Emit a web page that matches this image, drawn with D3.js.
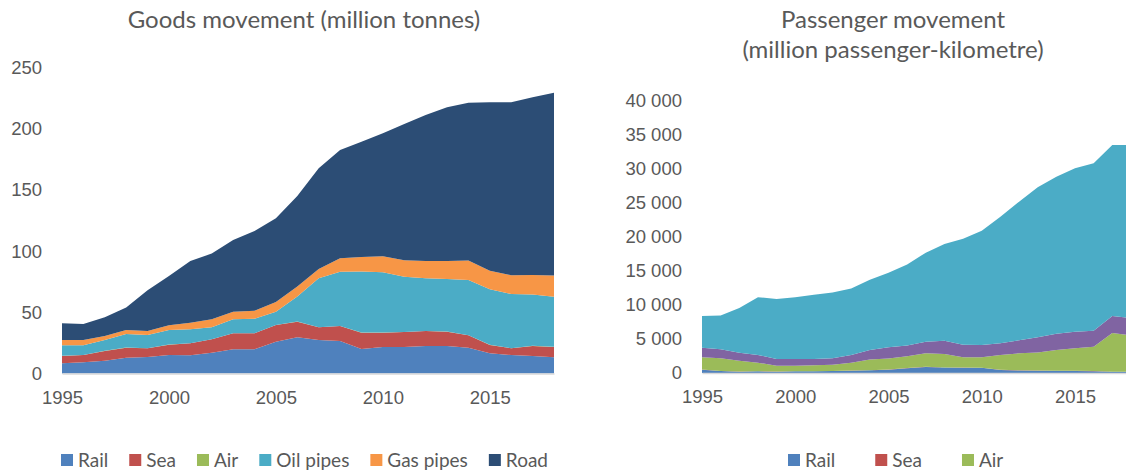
<!DOCTYPE html>
<html>
<head>
<meta charset="utf-8">
<script src="https://cdnjs.cloudflare.com/ajax/libs/d3/7.8.5/d3.min.js"></script>
<style>
  html, body { margin: 0; padding: 0; background: #fff; }
  svg { display: block; font-family: Lato, "Open Sans", sans-serif; }
  .tick text { fill: #595959; font-size: 18.5px; }
</style>
</head>
<body>
<svg id="chart" width="1126" height="472"></svg>
<script>
// years shared by both panels
const years = d3.range(1995, 2019);
const xTicks = [1995, 2000, 2005, 2010, 2015];

// Goods movement (million tonnes)
const goodsKeys = ['Rail', 'Sea', 'Air', 'Oil pipes', 'Gas pipes', 'Road'];
const goodsRail = [8.3, 9.1, 10.5, 12.9, 13.5, 15.1, 15.0, 17.0, 19.8, 19.8, 26.0, 29.6, 27.4, 26.6, 20.0, 21.7, 21.7, 22.5, 22.5, 21.1, 16.5, 15.1, 14.3, 13.2];
const goodsSea = [6.0, 6.0, 7.9, 8.2, 7.1, 8.4, 9.7, 10.9, 13.0, 13.0, 13.6, 12.7, 10.3, 12.2, 13.3, 11.6, 12.2, 12.2, 11.7, 10.1, 6.8, 5.5, 8.2, 8.5];
const goodsAir = [0.1, 0.1, 0.1, 0.1, 0.1, 0.1, 0.1, 0.1, 0.1, 0.1, 0.1, 0.1, 0.1, 0.1, 0.1, 0.1, 0.1, 0.1, 0.1, 0.1, 0.1, 0.1, 0.1, 0.1];
const goodsOil = [8.6, 7.8, 8.9, 11.1, 10.8, 11.9, 11.3, 9.7, 11.4, 11.9, 10.8, 20.6, 40.0, 44.3, 50.0, 49.4, 45.0, 43.0, 42.9, 45.1, 45.4, 44.3, 41.9, 40.9];
const goodsGas = [4.4, 4.4, 3.2, 3.2, 3.2, 3.9, 5.4, 6.6, 6.2, 6.5, 7.9, 8.0, 7.6, 10.9, 11.8, 13.0, 13.6, 14.1, 14.7, 16.0, 15.2, 15.3, 16.0, 17.3];
const goodsRoad = [13.6, 13.0, 15.3, 18.5, 33.3, 40.3, 50.5, 53.7, 58.5, 65.1, 68.4, 74.0, 82.2, 88.5, 94.2, 100.4, 111.2, 119.3, 125.6, 128.9, 137.6, 141.3, 145.1, 149.4];
const goodsTicks = [0, 50, 100, 150, 200, 250];

// Passenger movement (million passenger-kilometre)
const passKeys = ['Rail', 'Sea', 'Air', 'Series 4', 'Series 5'];
const passLegend = ['Rail', 'Sea', 'Air'];
const passRail = [490, 290, 200, 245, 200, 245, 245, 290, 340, 390, 490, 700, 900, 800, 780, 760, 440, 370, 330, 320, 310, 260, 175, 175];
const passSea = [20, 20, 20, 20, 20, 20, 20, 20, 20, 20, 20, 20, 20, 20, 20, 20, 20, 20, 20, 20, 20, 20, 20, 20];
const passAir = [1790, 1850, 1590, 1255, 860, 815, 865, 920, 1160, 1590, 1640, 1730, 1970, 1960, 1500, 1540, 2190, 2500, 2670, 3040, 3300, 3570, 5685, 5355];
const passS4 = [1425, 1320, 1180, 1130, 980, 980, 930, 930, 1130, 1380, 1650, 1600, 1690, 1970, 1870, 1800, 1720, 1910, 2250, 2380, 2450, 2380, 2520, 2540];
const passS5 = [4655, 4960, 6560, 8500, 8840, 9090, 9440, 9670, 9770, 10340, 10930, 11900, 13120, 14220, 15580, 16810, 18620, 20400, 22030, 23110, 24020, 24600, 25130, 25440];
const passTicks = [0, 5000, 10000, 15000, 20000, 25000, 30000, 35000, 40000];

const colors = {
  'Rail': '#4f81bd',
  'Sea': '#c0504d',
  'Air': '#9bbb59',
  'Oil pipes': '#4bacc6',
  'Gas pipes': '#f79646',
  'Road': '#2c4d75',
  'Series 4': '#8064a2',
  'Series 5': '#4bacc6'
};

const svg = d3.select('#chart');
const textColor = '#595959';
const spaced = d3.formatLocale({ decimal: '.', thousands: '\u00a0', grouping: [3], currency: ['', ''] }).format(',');

function buildRows(keys, cols) {
  return years.map((y, i) => {
    const row = { year: y };
    keys.forEach((k, j) => { row[k] = cols[j][i]; });
    return row;
  });
}

function drawPanel(opt) {
  const g = svg.append('g');
  const x = d3.scaleLinear().domain([1995, 2018]).range(opt.xRange);
  const y = d3.scaleLinear().domain([0, opt.yMax]).range(opt.yRange);

  const series = d3.stack().keys(opt.keys)(buildRows(opt.keys, opt.cols));
  const area = d3.area()
    .x(d => x(d.data.year))
    .y0(d => y(d[0]))
    .y1(d => y(d[1]));

  g.selectAll('path.area')
    .data(series)
    .join('path')
    .attr('class', 'area')
    .attr('fill', d => colors[d.key])
    .attr('d', area);

  // y axis (labels only)
  const gy = g.append('g')
    .attr('transform', `translate(${opt.yLabelX},0)`)
    .call(d3.axisLeft(y).tickValues(opt.yTicks).tickSize(0).tickPadding(0).tickFormat(opt.yFormat));
  gy.select('.domain').remove();

  // x axis
  const gx = g.append('g')
    .attr('transform', `translate(0,${opt.yRange[0]})`)
    .call(d3.axisBottom(x).tickValues(xTicks).tickSize(0).tickPadding(17).tickFormat(d3.format('d')));
  gx.select('.domain').attr('stroke', '#d9d9d9').attr('stroke-width', 1.5);

  // title
  const title = g.append('text')
    .attr('text-anchor', 'middle')
    .attr('fill', textColor)
    .attr('font-size', 24);
  opt.title.forEach((line, i) => {
    title.append('tspan')
      .attr('x', opt.titleX)
      .attr('y', opt.titleY + i * 30)
      .text(line);
  });

  // legend
  const lg = g.append('g').attr('transform', `translate(${opt.legendX},${opt.legendY})`);
  let cx = 0;
  opt.legend.forEach(k => {
    const item = lg.append('g').attr('transform', `translate(${cx},0)`);
    item.append('rect').attr('x', 0).attr('y', -6).attr('width', 12).attr('height', 12).attr('fill', colors[k]);
    const t = item.append('text')
      .attr('x', 17).attr('y', 0).attr('dy', '0.35em')
      .attr('fill', textColor).attr('font-size', 19)
      .text(k);
    cx += 17 + t.node().getComputedTextLength() + opt.legendGap;
  });
}

drawPanel({
  keys: goodsKeys,
  cols: [goodsRail, goodsSea, goodsAir, goodsOil, goodsGas, goodsRoad],
  xRange: [62, 554],
  yMax: 250,
  yRange: [373.5, 67.5],
  yTicks: goodsTicks,
  yFormat: d3.format('d'),
  yLabelX: 42,
  title: ['Goods movement (million tonnes)'],
  titleX: 304,
  titleY: 28,
  legend: goodsKeys,
  legendX: 61,
  legendY: 460,
  legendGap: 21
});

drawPanel({
  keys: passKeys,
  cols: [passRail, passSea, passAir, passS4, passS5],
  xRange: [702, 702 + 23 * 18.65],
  yMax: 40000,
  yRange: [373, 101],
  yTicks: passTicks,
  yFormat: spaced,
  yLabelX: 682,
  title: ['Passenger movement', '(million passenger-kilometre)'],
  titleX: 893,
  titleY: 28,
  legend: passLegend,
  legendX: 788,
  legendY: 460,
  legendGap: 40
});
</script>
</body>
</html>
